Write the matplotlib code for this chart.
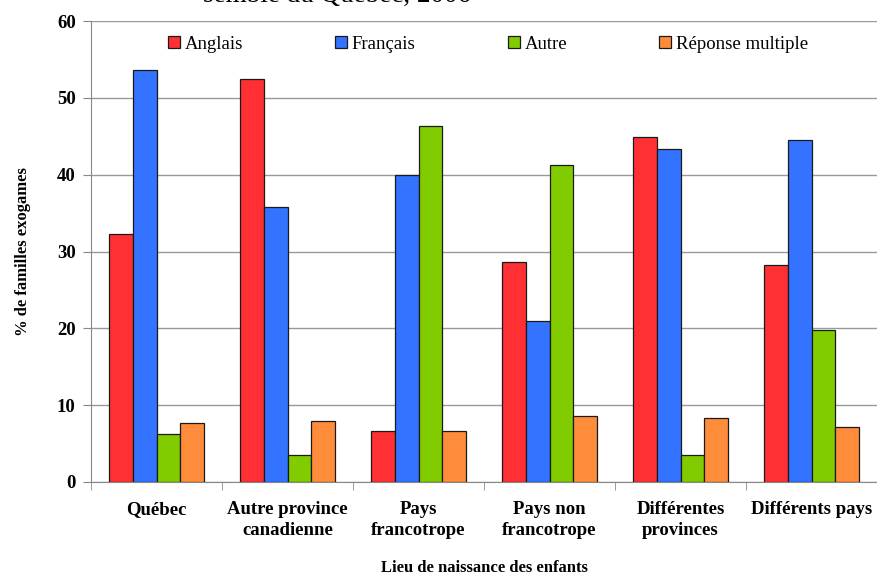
#!/usr/bin/env python3
'''Exogamous families by language and birthplace of children'''
import numpy as np
import matplotlib.pyplot as plt

categories = ['Québec', 'Autre province\ncanadienne', 'Pays\nfrancotrope',
              'Pays non\nfrancotrope', 'Différentes\nprovinces', 'Différents pays']
series = ['Anglais', 'Français', 'Autre', 'Réponse multiple']
anglais = [32.3, 52.4, 6.7, 28.6, 44.9, 28.3]
francais = [53.6, 35.8, 39.9, 20.9, 43.3, 44.5]
autre = [6.2, 3.5, 46.3, 41.2, 3.5, 19.8]
multiple = [7.7, 8.0, 6.7, 8.6, 8.3, 7.1]
colors = ['#ff3033', '#3373ff', '#80cc00', '#ff8c3a']

plt.rcParams['font.family'] = ['Liberation Serif', 'DejaVu Serif']

fig = plt.figure(figsize=(8.77, 5.76), dpi=100)
ax = fig.add_axes([91 / 877, 1 - 482 / 576, 786 / 877, 461 / 576])

x = np.arange(len(categories))
width = 0.183
for i, (name, vals) in enumerate(zip(series, [anglais, francais, autre, multiple])):
    ax.bar(x + (i - 1.5) * width, vals, width, color=colors[i], label=name,
           edgecolor='#1a1a1a', linewidth=0.9, zorder=3)

ax.set_xlim(-0.5, len(categories) - 0.5)
ax.set_ylim(0, 60)
ax.set_yticks(range(0, 61, 10))
ax.yaxis.grid(True, color='#999999', linewidth=1)
ax.set_axisbelow(True)
for side in ['top', 'right']:
    ax.spines[side].set_visible(False)
for side in ['left', 'bottom']:
    ax.spines[side].set_color('#888888')

ax.set_xticks(x)
ax.set_xticklabels(categories, fontsize=13.5, fontweight='bold', linespacing=1.3)
ax.tick_params(axis='x', length=0, pad=14)
ax.set_xticks(np.arange(-0.5, len(categories), 1), minor=True)
ax.tick_params(axis='x', which='minor', length=6, color='#888888')
ax.tick_params(axis='y', labelsize=13.5, length=6, color='#888888', pad=5)
for lbl in ax.get_yticklabels():
    lbl.set_fontweight('bold')

ax.set_ylabel('% de familles exogames', fontsize=12, fontweight='bold', labelpad=19)
ax.set_xlabel('Lieu de naissance des enfants', fontsize=12, fontweight='bold', labelpad=15)

ax.legend(loc='upper center', bbox_to_anchor=(0.505, 1.005), ncol=4, frameon=False,
          fontsize=13.5, handlelength=0.65, handleheight=0.65, handletextpad=0.25,
          columnspacing=4.9)

fig.text(203 / 877, 1 - 2 / 576, 'semble du Québec, 2006', fontsize=19.5,
         va='baseline', ha='left')

fig.savefig('out.png', dpi=100)
